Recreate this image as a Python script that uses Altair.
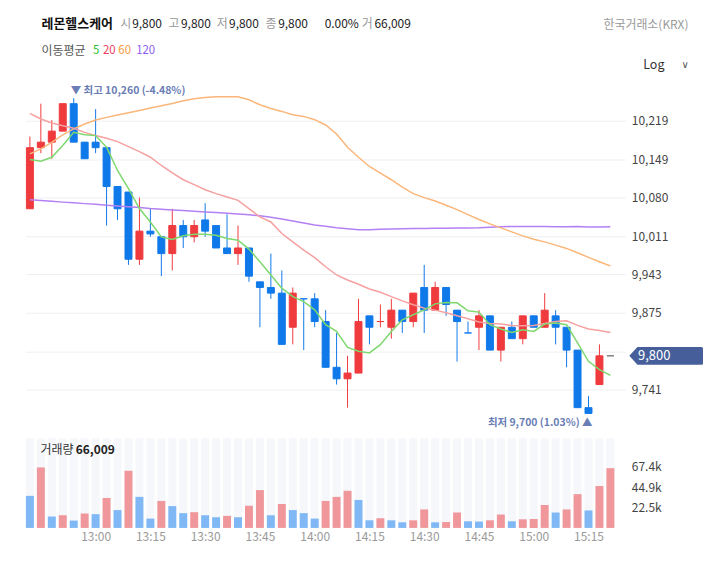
import altair as alt
import pandas as pd

FONT = "Noto Sans CJK KR"
RED, BLUE, GREY = "#EF3A3E", "#1079EA", "#7A7A7A"
VRED, VBLUE = "#F0979B", "#7FB8F5"
C_MA5, C_MA20, C_MA60, C_MA120 = "#7ED86E", "#F6A0A0", "#FBB67A", "#B481F4"
NAVY = "#465F9B"

# ---------------- data (3-minute candles, 12:42 .. 15:21) ----------------
times = pd.date_range("2024-01-02 12:42", periods=54, freq="3min")

opens = [10060, 10170, 10180, 10200, 10250, 10180, 10180, 10170, 10100, 10090,
         9970, 10020, 10010, 9980, 10030, 10010, 10040, 10030, 9990, 9980,
         9990, 9930, 9920, 9910, 9850, 9900, 9900, 9860, 9780, 9760,
         9770, 9870, 9860, 9850, 9880, 9860, 9920, 9880, 9920, 9880,
         9840, 9850, 9870, 9810, 9850, 9830, 9870, 9850, 9870, 9850,
         9810, 9710, 9750, 9800]
highs = [10190, 10250, 10220, 10250, 10260, 10180, 10240, 10170, 10100, 10090,
         10080, 10060, 10010, 10060, 10040, 10040, 10070, 10030, 10050, 10030,
         9990, 9930, 9980, 9950, 9920, 9900, 9910, 9880, 9840, 9800,
         9900, 9870, 9890, 9900, 9880, 9910, 9960, 9930, 9920, 9880,
         9860, 9880, 9870, 9850, 9860, 9870, 9870, 9910, 9880, 9850,
         9810, 9730, 9820, 9800]
lows = [10060, 10160, 10150, 10200, 10180, 10150, 10160, 10030, 10040, 9960,
        9960, 10010, 9940, 9950, 9990, 10000, 10010, 9990, 9980, 9960,
        9930, 9850, 9900, 9820, 9820, 9810, 9850, 9780, 9750, 9710,
        9770, 9820, 9850, 9830, 9840, 9850, 9840, 9880, 9870, 9790,
        9840, 9810, 9810, 9790, 9830, 9820, 9850, 9850, 9820, 9780,
        9710, 9700, 9750, 9800]
closes = [10170, 10180, 10200, 10250, 10180, 10150, 10170, 10100, 10060, 9970,
          10020, 10015, 9980, 10030, 10010, 10030, 10020, 9990, 9980, 9990,
          9940, 9920, 9910, 9820, 9910, 9900, 9860, 9780, 9760, 9770,
          9860, 9850, 9860, 9880, 9860, 9910, 9880, 9920, 9890, 9860,
          9840, 9870, 9810, 9850, 9830, 9870, 9850, 9880, 9850, 9810,
          9710, 9700, 9800, 9800]
volumes = [35400, 66800, 12600, 14000, 8100, 15900, 15200, 33100, 19700, 63100,
           34300, 10300, 29800, 24100, 16300, 17400, 14000, 11800, 13300, 11800,
           24500, 41800, 14000, 26400, 19700, 16300, 10300, 29800, 34300, 41000,
           30900, 8400, 10700, 8400, 6200, 8400, 20400, 6200, 6500, 17000,
           7300, 7000, 8400, 14800, 7300, 9500, 9800, 25300, 17000, 20400,
           37300, 19300, 46300, 66009]
ma5 = [10148.6, 10145.5, 10152.7, 10173.8, 10197.8, 10193.6, 10191.9, 10170.8, 10128.8, 10096.0,
       10060.3, 10036.4, 10009.8, 10005.2, 10011.6, 10014.6, 10014.6, 10012.8, 10006.9, 10003.9,
       9988.0, 9965.5, 9942.1, 9918.7, 9903.9, 9895.1, 9880.6, 9854.4, 9842.7, 9814.8,
       9807.9, 9805.1, 9819.5, 9842.7, 9863.1, 9871.9, 9880.6, 9891.1, 9893.4, 9892.9,
       9878.8, 9876.6, 9854.4, 9846.9, 9840.9, 9845.6, 9842.7, 9855.6, 9857.3, 9854.4,
       9822.5, 9790.5, 9776.1, 9765.8]
ma20 = [10232.2, 10222.1, 10214.8, 10209.9, 10205.1, 10197.8, 10191.9, 10187.0, 10181.0, 10172.0,
        10163.0, 10152.7, 10137.8, 10124.7, 10112.1, 10103.2, 10094.2, 10087.1, 10081.0, 10075.1,
        10060.3, 10045.3, 10036.4, 10015.8, 10000.9, 9986.2, 9972.9, 9956.7, 9942.1, 9933.3,
        9925.7, 9917.4, 9911.6, 9903.9, 9896.4, 9889.4, 9883.6, 9880.1, 9875.3, 9870.1,
        9864.9, 9859.1, 9856.6, 9855.6, 9853.2, 9852.6, 9853.2, 9856.6, 9860.1, 9861.4,
        9853.2, 9846.9, 9844.4, 9840.9]
ma60 = [10158.9, 10167.9, 10179.8, 10193.1, 10204.0, 10213.0, 10220.3, 10225.0, 10229.3, 10233.5,
        10237.7, 10242.0, 10246.2, 10250.4, 10255.3, 10258.9, 10261.3, 10262.6, 10262.6, 10262.6,
        10257.1, 10248.0, 10241.3, 10235.9, 10229.9, 10226.8, 10220.8, 10211.2, 10194.9, 10170.7,
        10152.7, 10136.0, 10124.0, 10112.1, 10098.9, 10087.1, 10079.9, 10073.8, 10066.2, 10058.5,
        10049.6, 10040.7, 10032.9, 10025.8, 10018.6, 10011.6, 10005.7, 10000.9, 9995.1, 9989.2,
        9981.4, 9973.3, 9965.5, 9957.9]
ma120 = [10076.0, 10074.6, 10073.3, 10071.9, 10070.6, 10069.2, 10068.0, 10066.5, 10065.1, 10063.7,
         10062.1, 10060.3, 10059.0, 10057.8, 10056.7, 10055.5, 10054.2, 10053.2, 10051.9, 10050.7,
         10049.2, 10047.5, 10044.8, 10041.8, 10038.2, 10034.6, 10031.1, 10028.8, 10026.1, 10024.3,
         10022.6, 10022.6, 10023.4, 10024.0, 10024.3, 10024.7, 10024.9, 10025.2, 10025.2, 10025.6,
         10025.8, 10026.1, 10027.0, 10027.9, 10028.2, 10028.2, 10028.2, 10028.2, 10027.9, 10027.9,
         10028.2, 10027.5, 10027.4, 10027.9]

price_ticks = [9741, 9807, 9875, 9943, 10011, 10080, 10149, 10219]
vol_ticks = [22467, 44933, 67400]
time_ticks = ["13:00", "13:15", "13:30", "13:45", "14:00", "14:15", "14:30", "14:45", "15:00", "15:15"]

# ---------------- derived table ----------------
def cdir(i):
    o, c = opens[i], closes[i]
    if c > o:
        return "up"
    if c < o:
        return "down"
    if i > 0 and c > closes[i - 1]:
        return "up"
    if i > 0 and c < closes[i - 1]:
        return "down"
    return "flat"

vdir = ["vdown"] + ["vup" if volumes[i] > volumes[i - 1] else "vdown" for i in range(1, len(volumes))]

df = pd.DataFrame({
    "idx": list(range(len(opens))),
    "t": times.strftime("%Y-%m-%dT%H:%M:%S"),
    "open": opens, "high": highs, "low": lows, "close": closes,
    "volume": volumes, "ma5": ma5, "ma20": ma20, "ma60": ma60, "ma120": ma120,
    "dir": [cdir(i) for i in range(len(opens))],
    "vdir": vdir,
})

last = len(opens) - 1
hi_i = highs.index(max(highs))
lo_i = len(lows) - 1 - lows[::-1].index(min(lows))
last_close = closes[-1]
hi_label = f"▼ 최고 {highs[hi_i]:,} ({(last_close - highs[hi_i]) / highs[hi_i] * 100:.2f}%)"
lo_label = f"최저 {lows[lo_i]:,} ({(last_close - lows[lo_i]) / lows[lo_i] * 100:.2f}%) ▲"
chg = (closes[-1] - closes[-2]) / closes[-2] * 100
tag_value = closes[-1]

# ---------------- layout constants ----------------
PX0, PY0 = 26, 78          # price plot origin on the page
W, H, VH = 602, 350, 90
VY0 = PY0 + H + 11

def dt(h, m, s=0, ms=0):
    return alt.DateTime(year=2024, month=1, date=2, hours=h, minutes=m, seconds=s, milliseconds=ms)

xscale = alt.Scale(domain=[dt(12, 40, 54, 545), dt(15, 25, 5, 455)], padding=0)
yscale = alt.Scale(type="log", domain=[9676.0, 10295.4], nice=False, zero=False)
yaxis = alt.Axis(orient="right", values=price_ticks,
                 labelExpr=f"abs(datum.value - {tag_value}) < 30 ? '' : format(datum.value, ',')",
                 grid=True, gridColor="#EFEFF2",
                 ticks=False, domain=False, labelPadding=6, labelFontSize=12, labelColor="#444",
                 labelFont=FONT, title=None)
cscale = alt.Scale(domain=["up", "down", "flat", "vup", "vdown"], range=[RED, BLUE, GREY, VRED, VBLUE])

X = alt.X("t:T", scale=xscale, axis=None)
base = alt.Chart(df)
one = pd.DataFrame({"a": [0]})

def label(text, x, y, color="#222", size=12.5, weight="normal", align="left", font=FONT, y0=PY0):
    return alt.Chart(one).mark_text(text=text, align=align, baseline="middle", fontSize=size,
                                    fontWeight=weight, color=color, font=font).encode(
        x=alt.value(x - PX0), y=alt.value(y - y0))

wick = base.mark_rule(strokeWidth=1).encode(
    x=X, y=alt.Y("low:Q", scale=yscale, axis=yaxis), y2="high:Q",
    color=alt.Color("dir:N", scale=cscale, legend=None))
body = base.mark_bar(size=7, strokeWidth=1).encode(
    x=X, y=alt.Y("open:Q", scale=yscale, axis=yaxis), y2="close:Q",
    color=alt.Color("dir:N", scale=cscale, legend=None),
    stroke=alt.Stroke("dir:N", scale=cscale, legend=None))

lines = [base.mark_line(color=c, strokeWidth=1.5).encode(x=X, y=alt.Y(f"{col}:Q", scale=yscale, axis=yaxis))
         for col, c in [("ma120", C_MA120), ("ma60", C_MA60), ("ma20", C_MA20), ("ma5", C_MA5)]]

hi_txt = base.transform_filter(alt.datum.idx == hi_i).mark_text(
    text=hi_label, align="left", baseline="middle", dx=-3, dy=-7, fontSize=10.5, fontWeight="bold",
    color="#6A7DB5", font=FONT).encode(x=X, y=alt.Y("high:Q", scale=yscale, axis=yaxis))
lo_txt = base.transform_filter(alt.datum.idx == lo_i).mark_text(
    text=lo_label, align="right", baseline="middle", dx=4, dy=10, fontSize=10.5, fontWeight="bold",
    color="#6A7DB5", font=FONT).encode(x=X, y=alt.Y("low:Q", scale=yscale, axis=yaxis))

TAG = "M-1,0L-0.78,-0.243L0.96,-0.243Q1,-0.243,1,-0.2L1,0.2Q1,0.243,0.96,0.243L-0.78,0.243Z"
tag = base.transform_filter(alt.datum.idx == last).mark_point(
    shape=TAG, size=74 * 74, filled=True, color=NAVY, opacity=1, strokeWidth=0).encode(
    x=alt.value(669 - PX0), y=alt.Y("close:Q", scale=yscale, axis=yaxis))
tag_txt = base.transform_filter(alt.datum.idx == last).mark_text(
    color="white", fontSize=13, align="center", baseline="middle", font=FONT).encode(
    x=alt.value(657 - PX0), y=alt.Y("close:Q", scale=yscale, axis=yaxis),
    text=alt.Text("close:Q", format=","))

hy = 22.7
header = [
    label("레몬헬스케어", 41.7, hy, "#111", 13, "bold"),
    label("시", 120.7, hy, "#999", 12), label(f"{opens[-1]:,}", 132.7, hy, size=12),
    label("고", 169.3, hy, "#999", 12), label(f"{highs[-1]:,}", 181.7, hy, size=12),
    label("저", 217.7, hy, "#999", 12), label(f"{lows[-1]:,}", 230, hy, size=12),
    label("종", 266.7, hy, "#999", 12), label(f"{closes[-1]:,}", 279.3, hy, size=12),
    label(f"{chg:.2f}%", 326, hy, size=12),
    label("거", 363.3, hy, "#999", 12), label(f"{volumes[-1]:,}", 376, hy, size=12),
    label("한국거래소(KRX)", 606, 24, "#999", 12),
    label("이동평균", 41.7, 49.7, "#555", 12),
    label("5", 93.3, 49.7, "#2DBE2D", 11.5),
    label("20", 103.3, 49.7, "#F23D63", 11.5),
    label("60", 118.8, 49.7, "#F79A3D", 11.5),
    label("120", 136.7, 49.7, "#8E5CF2", 11.5),
    label("Log", 646, 64, "#333", 12.5),
    label("∨", 688, 64, "#555", 10, align="center", font="DejaVu Sans"),
]

price = alt.layer(wick, body, *lines, hi_txt, lo_txt, tag, tag_txt, *header).properties(width=W, height=H)

# ---------------- volume panel ----------------
vxaxis = alt.Axis(values=[dt(int(s[:2]), int(s[3:])) for s in time_ticks], format="%H:%M",
                  labelColor="#999", labelFontSize=12, labelFont=FONT, ticks=False, domain=False,
                  grid=False, labelPadding=4, title=None, labelFlush=False)
VX = alt.X("t:T", scale=xscale, axis=vxaxis)
vscale = alt.Scale(domain=[0, 99000], nice=False)
vyaxis = alt.Axis(orient="right", values=vol_ticks, format=".3s", grid=False, ticks=False, domain=False,
                  labelPadding=6, labelFontSize=12, labelColor="#444", labelFont=FONT, title=None)

stripes = base.mark_bar(size=8, color="#F5F7FB").encode(x=VX, y=alt.value(0), y2=alt.value(VH))
vbars = base.mark_bar(size=8).encode(
    x=VX, y=alt.Y("volume:Q", scale=vscale, axis=vyaxis),
    color=alt.Color("vdir:N", scale=cscale, legend=None))
vlab = label("거래량", 40.7, 450.7, "#333", 12, y0=VY0)
vval = label(f"{volumes[-1]:,}", 76, 450.7, "#222", 12, "bold", y0=VY0)

volume = alt.layer(stripes, vbars, vlab, vval).properties(width=W, height=VH)

chart = alt.vconcat(price, volume, spacing=11, bounds="flush").properties(
    padding={"left": 18, "top": 8, "right": 0, "bottom": 0}
).configure(font=FONT).configure_view(stroke="transparent", strokeWidth=0)

chart.save("out.html", embed_options={"renderer": "svg", "actions": False})
